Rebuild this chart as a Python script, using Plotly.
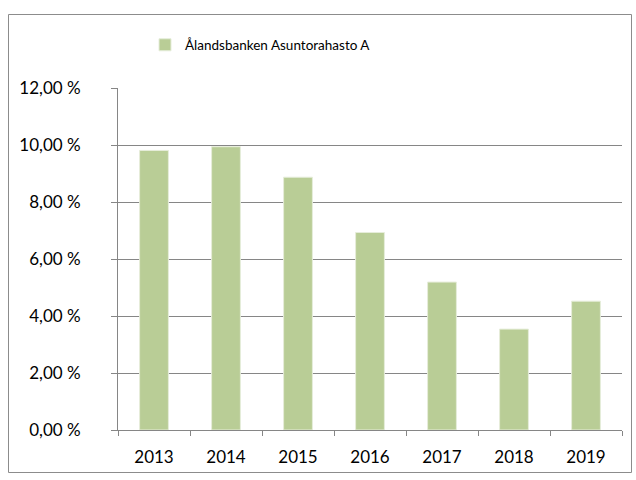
import plotly.graph_objects as go

years = ["2013", "2014", "2015", "2016", "2017", "2018", "2019"]
values = [9.81, 9.94, 8.87, 6.93, 5.19, 3.54, 4.52]
series_name = "Ålandsbanken Asuntorahasto A"
y_tickvals = [0, 2, 4, 6, 8, 10, 12]
y_ticktext = ["0,00 %", "2,00 %", "4,00 %", "6,00 %", "8,00 %", "10,00 %", "12,00 %"]

W, H = 636, 480
L, R, T, B = 118, 14, 88, 50
pw, ph = W - L - R, H - T - B

def px(x):
    return (x - L) / pw

def py(y):
    return 1 - (y - T) / ph

fig = go.Figure()
fig.add_trace(go.Bar(
    x=years, y=values, name=series_name,
    marker=dict(color="#B9CD96", line=dict(color="#E6EDDA", width=1)),
    showlegend=True, hoverinfo="x+y",
))
# invisible helper trace so the tick-only overlay axis is drawn
fig.add_trace(go.Scatter(x=years[:1], y=[None], yaxis="y2", mode="markers",
                         showlegend=False, hoverinfo="skip"))

grid = "#868686"
fig.update_layout(
    width=W, height=H,
    margin=dict(l=L, r=R, t=T, b=B, autoexpand=False),
    paper_bgcolor="white", plot_bgcolor="white",
    font=dict(family="Lato", size=17, color="#000000"),
    bargap=0.6,
    showlegend=True,
    legend=dict(orientation="h", xref="container", yref="container",
                x=145 / W, xanchor="left", y=1 - 45 / H, yanchor="middle",
                font=dict(size=13.5), bgcolor="rgba(0,0,0,0)"),
    xaxis=dict(type="category", showline=True, linecolor=grid, linewidth=1,
               ticks="outside", tickson="boundaries", ticklen=5, tickcolor=grid,
               showgrid=False, tickfont=dict(size=17), automargin=False,
               ticklabelstandoff=12),
    # labels axis: long transparent ticks push labels away from the axis line
    yaxis=dict(range=[0, 12], tickvals=y_tickvals, ticktext=y_ticktext,
               showline=True, linecolor=grid, linewidth=1,
               ticks="outside", ticklen=33, tickcolor="rgba(0,0,0,0)",
               showgrid=True, gridcolor=grid, gridwidth=1, zeroline=False,
               tickfont=dict(size=17), automargin=False),
    # visible short ticks
    yaxis2=dict(range=[0, 12], tickvals=y_tickvals, overlaying="y", side="left",
                anchor="x", showline=False, showgrid=False, zeroline=False,
                ticks="outside", ticklen=6, tickcolor=grid, showticklabels=False,
                automargin=False),
    shapes=[dict(type="rect", xref="paper", yref="paper",
                 x0=px(8.5), x1=px(631.5), y0=py(472.5), y1=py(14.5),
                 line=dict(color="#8C8C8C", width=1), fillcolor="rgba(0,0,0,0)", layer="below")],
)

fig.write_html("out.html", config={"displayModeBar": False},
               post_script="document.body.style.margin='0';document.body.style.padding='0';")
